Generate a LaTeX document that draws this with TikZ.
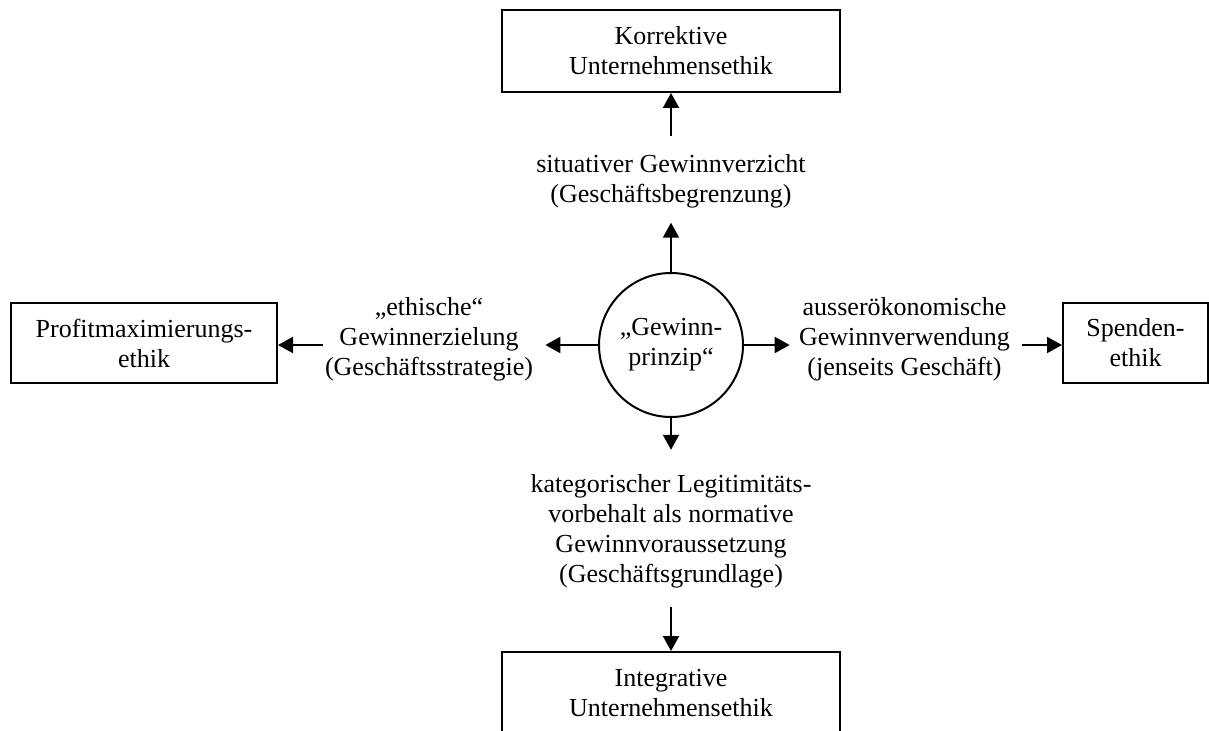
\documentclass[tikz,border=0pt]{standalone}
\usepackage{fontspec}
\setmainfont{Liberation Serif}
\usetikzlibrary{arrows.meta}

\begin{document}
\begin{tikzpicture}[x=0.5pt,y=-0.5pt,
    every node/.style={font=\fontsize{13}{15}\selectfont,align=center},
    box/.style={draw,line width=1pt,inner sep=0pt,minimum height=41pt},
    lab/.style={inner sep=0pt},
    arr/.style={line width=1pt,-{Triangle[length=7.5pt,width=8pt]}}]

    \useasboundingbox (0,0) rectangle (1209,731);

    % Mitte
    \node[draw,circle,line width=1pt,inner sep=0pt,minimum size=72pt] (gp) at (671,345) {„Gewinn-\\prinzip“};

    % Kaestchen
    \node[box,minimum width=169pt] (kue) at (671,51) {Korrektive\\Unternehmensethik};
    \node[box,minimum width=169pt] (iue) at (671,693) {Integrative\\Unternehmensethik};
    \node[box,minimum width=133pt,minimum height=40pt] (pme) at (144,343) {Profitmaximierungs-\\ethik};
    \node[box,minimum width=72.5pt,minimum height=40pt] (spe) at (1135.5,343) {Spenden-\\ethik};

    % Beschriftungen
    \node[lab] (lkue) at (671,181.5) {situativer Gewinnverzicht\\(Geschäftsbegrenzung)};
    \node[lab] (lpme) at (429,339) {„ethische“\\Gewinnerzielung\\(Geschäftsstrategie)};
    \node[lab] (lspe) at (904.5,339) {ausserökonomische\\Gewinnverwendung\\(jenseits Geschäft)};
    \node[lab] (liue) at (671,531) {kategorischer Legitimitäts-\\vorbehalt als normative\\Gewinnvoraussetzung\\(Geschäftsgrundlage)};

    % Pfeile
    \draw[arr,shorten >=7pt] (gp.north) -- (lkue.south);
    \draw[arr,shorten <=9pt] (lkue.north) -- (kue.south);
    \draw[arr,shorten >=12pt] (gp.south) -- (liue.north);
    \draw[arr,shorten <=9.5pt] (liue.south) -- (iue.north);
    \draw[arr,shorten >=6pt] (gp.west) -- (lpme.east |- gp.west);
    \draw[arr,shorten <=1pt] (lpme.west |- gp.west) -- (pme.east |- gp.west);
    \draw[arr,shorten >=4.5pt] (gp.east) -- (lspe.west |- gp.east);
    \draw[arr,shorten <=6pt] (lspe.east |- gp.east) -- (spe.west |- gp.east);
\end{tikzpicture}
\end{document}
